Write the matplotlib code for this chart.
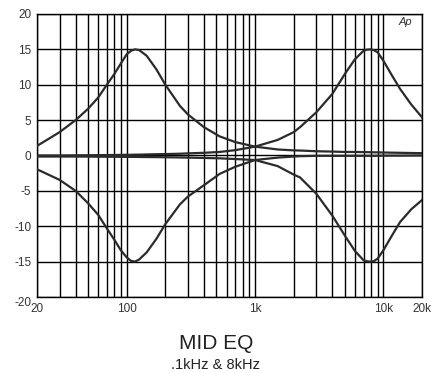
import matplotlib
matplotlib.use("Agg")
import matplotlib.pyplot as plt
from matplotlib.transforms import ScaledTranslation

plt.rcParams['font.family'] = ['Liberation Sans', 'DejaVu Sans']

# frequencies (Hz) and responses (dB)
freq = [20, 30, 40, 50, 60, 70, 80, 90, 100, 108, 116, 125, 143, 170, 200, 260, 300, 400,
        530, 700, 1000, 1500, 2000, 2240, 3000, 4000, 5000, 6000, 7000, 7400, 7900, 8400,
        9000, 10000, 11500, 13500, 16500, 20000]

boost_lo = [1.35, 3.3, 5.0, 6.6, 8.2, 10.0, 11.5, 13.0, 14.3, 14.8, 15.0, 14.9, 14.1, 12.2,
            10.0, 7.0, 5.8, 4.0, 2.7, 1.9, 1.25, 0.85, 0.72, 0.7, 0.6, 0.55, 0.5, 0.5, 0.48,
            0.47, 0.46, 0.45, 0.44, 0.42, 0.4, 0.38, 0.35, 0.33]

cut_lo = [-1.95, -3.45, -5.0, -6.75, -8.4, -10.3, -11.9, -13.4, -14.4, -14.9, -15.0, -14.7,
          -13.7, -11.8, -9.7, -6.9, -5.8, -4.2, -2.6, -1.6, -0.64, -0.3, -0.15, -0.1, -0.05,
          -0.05, -0.05, -0.05, -0.05, -0.05, -0.05, -0.05, -0.04, -0.03, -0.02, -0.02, -0.01, 0.0]

boost_hi = [0.0, 0.0, 0.02, 0.03, 0.05, 0.06, 0.07, 0.08, 0.1, 0.1, 0.12, 0.12, 0.15, 0.18,
            0.2, 0.25, 0.3, 0.38, 0.5, 0.75, 1.25, 2.2, 3.3, 4.0, 6.1, 8.7, 11.5, 13.6, 14.8,
            14.95, 15.0, 14.9, 14.6, 13.4, 11.5, 9.4, 7.2, 5.4]

cut_hi = [-0.15, -0.15, -0.15, -0.16, -0.17, -0.18, -0.18, -0.19, -0.2, -0.2, -0.2, -0.21,
          -0.22, -0.23, -0.25, -0.28, -0.3, -0.35, -0.4, -0.5, -0.64, -1.5, -2.7, -3.1, -5.4,
          -8.5, -11.3, -13.5, -14.8, -14.95, -15.0, -14.95, -14.6, -13.4, -11.5, -9.4, -7.6, -6.3]

grid_x = [20, 30, 40, 50, 60, 70, 80, 90, 100, 200, 300, 400, 500, 600, 700, 800, 900,
          1000, 2000, 3000, 4000, 5000, 6000, 7000, 8000, 9000, 10000, 20000]
xticks = [20, 100, 1000, 10000, 20000]
xlabels = ['20', '100', '1k', '10k', '20k']
yticks = [-20, -15, -10, -5, 0, 5, 10, 15, 20]

fig = plt.figure(figsize=(4.38, 3.73), dpi=100)
ax = fig.add_axes([0.0845, 0.2038, 0.879, 0.7587])

for gx in grid_x:
    ax.axvline(gx, color='black', lw=1.0, zorder=1)
for gy in yticks:
    ax.axhline(gy, color='black', lw=1.0, zorder=1)

for ys in [boost_lo, cut_lo, boost_hi, cut_hi]:
    ax.plot(freq, ys, color='#2b2b2b', lw=1.6, zorder=3)

ax.set_xscale('log')
ax.set_xlim(20, 20000)
ax.set_ylim(-20, 20)
ax.minorticks_off()
ax.set_xticks(xticks)
ax.set_xticklabels(xlabels)
ax.set_yticks(yticks)
ax.set_yticklabels([str(v) for v in yticks])
ax.tick_params(length=0, labelsize=8.5, labelcolor='#333333', pad=4)
for sp in ax.spines.values():
    sp.set_linewidth(1.0)

# the bottom label sits a bit lower in the original
lab = ax.get_yticklabels()[0]
lab.set_transform(lab.get_transform() + ScaledTranslation(0, -3 / 72, fig.dpi_scale_trans))

ax.text(0.956, 0.972, 'Ap', transform=ax.transAxes, ha='center', va='center',
        fontsize=8, style='italic', color='#333333')

fig.text(0.493, 0.0804, 'MID EQ', ha='center', va='center', fontsize=15, color='#222222')
fig.text(0.491, 0.022, '.1kHz & 8kHz', ha='center', va='center', fontsize=10.5, color='#222222')

fig.savefig('out.png', dpi=100)
